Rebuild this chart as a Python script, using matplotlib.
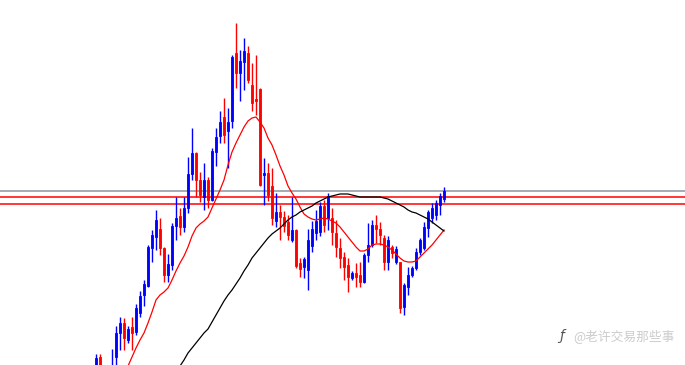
import numpy as np
import matplotlib
matplotlib.use('Agg')
import matplotlib.pyplot as plt

# candle values (scale grows downward, axis is inverted)
opens = [368, 357, 385, 378, 378, 357, 333, 323, 340, 327,
         332, 313, 295, 286, 248, 237, 229, 248, 275, 265,
         226, 216, 227, 208, 174, 153, 180, 197, 180, 200,
         152, 136, 117, 131, 121, 53, 73, 62, 53, 85,
         99, 89, 175, 173, 186, 221, 212, 217, 222, 240,
         230, 263, 267, 270, 246, 233, 232, 206, 218, 218,
         233, 248, 257, 265, 278, 273, 275, 282, 255, 245,
         225, 229, 238, 262, 247, 262, 262, 307, 287, 275,
         268, 252, 248, 228, 218, 215, 205, 199]
highs = [354, 354, 372, 367, 349, 326, 317, 318, 326, 317,
         304, 291, 280, 245, 230, 210, 218, 247, 254, 223,
         197, 208, 197, 157, 128, 152, 172, 163, 177, 148,
         128, 111, 98, 108, 55, 23, 50, 38, 46, 63,
         55, 88, 158, 163, 168, 193, 205, 211, 215, 197,
         229, 258, 257, 229, 221, 210, 202, 200, 193, 208,
         220, 238, 252, 258, 271, 263, 262, 253, 223, 220,
         215, 222, 235, 236, 245, 246, 262, 283, 267, 266,
         248, 238, 222, 210, 203, 200, 193, 187]
lows = [372, 372, 390, 385, 382, 366, 350, 350, 343, 350,
        335, 317, 306, 287, 262, 250, 255, 282, 282, 270,
        240, 235, 232, 213, 180, 197, 202, 210, 208, 201,
        166, 143, 143, 168, 128, 88, 101, 90, 83, 111,
        115, 186, 205, 201, 225, 227, 240, 232, 240, 242,
        268, 277, 278, 290, 252, 240, 236, 232, 230, 245,
        257, 268, 280, 292, 280, 287, 287, 283, 262, 247,
        243, 245, 270, 270, 258, 264, 313, 315, 295, 277,
        270, 255, 250, 237, 223, 220, 215, 202]
closes = [358, 368, 375, 370, 366, 333, 323, 338, 329, 333,
          308, 296, 284, 247, 235, 220, 248, 275, 264, 226,
          218, 227, 208, 174, 153, 180, 195, 180, 200, 151,
          137, 122, 135, 122, 57, 73, 61, 51, 80, 103,
          101, 185, 173, 195, 218, 212, 217, 226, 235, 230,
          266, 269, 259, 240, 229, 221, 206, 225, 196, 232,
          247, 258, 267, 277, 273, 277, 282, 255, 245, 225,
          229, 235, 262, 240, 253, 249, 308, 285, 275, 268,
          252, 240, 227, 212, 208, 203, 196, 191]

# moving averages
red_ma_start = 7
red_ma = [375, 366, 357, 348, 340, 333, 323, 312, 300, 295,
          292, 288, 280, 271, 263, 256, 247, 236, 228, 224,
          221, 217, 208, 199, 190, 180, 165, 152, 143, 135,
          127, 121, 118, 117, 122, 128, 138, 145, 155, 166,
          175, 186, 193, 199, 207, 214, 217, 219, 220, 219,
          218, 219, 221, 223, 227, 232, 237, 242, 247, 251,
          251, 249, 245, 244, 244, 245, 247, 250, 254, 258,
          261, 262, 262, 261, 257, 253, 249, 245, 240, 235, 230]
black_ma_start = 21
black_ma = [366, 360, 353, 348, 343, 338, 333, 329, 322, 315,
            308, 301, 295, 290, 284, 278, 271, 265, 258, 253,
            248, 243, 238, 234, 231, 228, 224, 220, 217, 215,
            212, 210, 208, 206, 203, 201, 199, 197, 196, 195,
            194, 194, 194, 195, 196, 197, 197, 197, 197, 197,
            197, 198, 199, 201, 203, 205, 207, 210, 212, 213,
            215, 217, 219, 222, 225, 228, 231]

# horizontal levels
levels = [191, 197, 204]
level_colors = ['#8c959f', '#ff0000', '#ff0000']

o = np.array(opens)
h = np.array(highs)
l = np.array(lows)
c = np.array(closes)
x = np.arange(len(o))
up = c < o  # drawn with an inverted axis
colors = np.where(up, '#0000ff', '#ff0000')

fig = plt.figure(figsize=(6.85, 3.65), dpi=100)
ax = fig.add_axes([0, 0, 1, 1])

for lv, col in zip(levels, level_colors):
    ax.axhline(lv, color=col, lw=1.1, zorder=1)

ax.vlines(x, h, l, colors=colors, lw=1.0, zorder=2)
body = np.where(np.abs(c - o) < 1, 1, c - o)
ax.bar(x, body, bottom=o, width=0.6, color=colors, edgecolor=colors,
       linewidth=0.6, zorder=3)

ax.plot(red_ma_start + np.arange(len(red_ma)), red_ma, color='#ff0000', lw=0.9, zorder=4)
ax.plot(black_ma_start + np.arange(len(black_ma)), black_ma, color='black', lw=0.9, zorder=4)

ax.set_xlim(-24, 147.25)
ax.set_ylim(365, 0)
ax.axis('off')

# watermark
fig.text(0.82, 0.079, 'ƒ', color='#555555', fontsize=10, style='italic',
         ha='center', va='center')
fig.text(0.985, 0.079, '@老许交易那些事', color='#cccccc', fontsize=9.2,
         ha='right', va='center', family=['Noto Sans CJK SC', 'DejaVu Sans'])

fig.savefig('out.png', dpi=100)
